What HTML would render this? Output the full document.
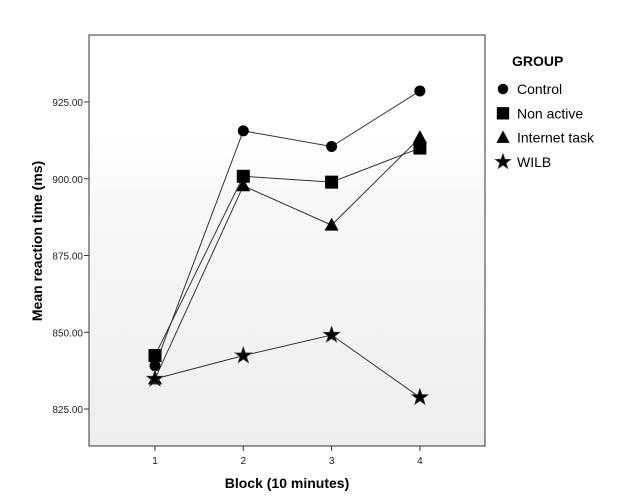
<!DOCTYPE html>
<html><head><meta charset="utf-8"><style>
html,body{margin:0;padding:0;background:#fff;}
svg{display:block;font-family:"Liberation Sans",sans-serif;}
</style></head><body>
<svg width="625" height="504" viewBox="0 0 625 504">
<defs>
<linearGradient id="bg" x1="0" y1="0" x2="0" y2="1">
<stop offset="0" stop-color="#ffffff"/><stop offset="0.25" stop-color="#ffffff"/><stop offset="0.4" stop-color="#f8f8f8"/><stop offset="1" stop-color="#efeeee"/>
</linearGradient>
</defs>
<rect x="89" y="35" width="396" height="411" fill="url(#bg)" stroke="#333" stroke-width="1"/>
<g id="yaxis"></g>
<g id="xaxis"></g>
<g id="series"></g>
<text x="287" y="488" text-anchor="middle" font-size="14" font-weight="bold">Block (10 minutes)</text>
<text transform="translate(42,241) rotate(-90)" text-anchor="middle" font-size="14" font-weight="bold">Mean reaction time (ms)</text>
<g id="legend">
<text x="512" y="66" font-size="14" font-weight="bold">GROUP</text>
</g>
</svg>
<script>
const categories = ["1","2","3","4"];
const seriesNames = ["Control","Non active","Internet task","WILB"];
const controlValues = [839.1, 915.6, 910.5, 928.6];
const nonActiveValues = [842.4, 900.8, 898.9, 910.0];
const internetValues = [834.8, 897.7, 884.9, 913.4];
const wilbValues = [834.8, 842.4, 849.1, 828.8];
const yTicks = [825, 850, 875, 900, 925];
const yTickLabels = ["825.00","850.00","875.00","900.00","925.00"];

const NS = "http://www.w3.org/2000/svg";
function y(v){ return 409 + (825 - v) * 3.07; }
function x(i){ return 155 + i * 88.3; }
function mk(tag, attrs, parent){ const e=document.createElementNS(NS,tag); for(const k in attrs) e.setAttribute(k, attrs[k]); parent.appendChild(e); return e; }

const ya = document.getElementById('yaxis');
yTicks.forEach((t,i)=>{
  const l = mk('line',{x1:84,x2:89,y1:y(t),y2:y(t),stroke:'#333'},ya);
  
  
  const tx = mk('text',{x:83,y:y(t)+4,'text-anchor':'end','font-size':10,fill:'#222'},ya);
  tx.textContent = yTickLabels[i];
  
  
});
const xa = document.getElementById('xaxis');
categories.forEach((c,i)=>{
  const l = mk('line',{x1:x(i),x2:x(i),y1:446,y2:451,stroke:'#333'},xa);
  
  
  const tx = mk('text',{x:x(i),y:464,'text-anchor':'middle','font-size':10,fill:'#222'},xa);
  tx.textContent = c;
  
  
});

function marker(type, cx, cy, parent, s){
  s = s || 1;
  let e;
  if(type==='circle') e = mk('circle',{cx:cx,cy:cy,r:5.5*s,fill:'#000'},parent);
  else if(type==='square') e = mk('rect',{x:cx-6.5*s,y:cy-6.5*s,width:13*s,height:13*s,fill:'#000'},parent);
  else if(type==='triangle') e = mk('polygon',{points:`${cx},${cy-7.5*s} ${cx+7*s},${cy+5.5*s} ${cx-7*s},${cy+5.5*s}`,fill:'#000'},parent);
  else {
    let pts=[]; for(let k=0;k<10;k++){ const r = (k%2? 3.6:9)*s; const a = -Math.PI/2 + k*Math.PI/5; pts.push((cx+r*Math.cos(a)).toFixed(1)+','+(cy+r*Math.sin(a)).toFixed(1)); }
    e = mk('polygon',{points:pts.join(' '),fill:'#000',stroke:'#555','stroke-width':0.6},parent);
  }
  return e;
}

const allSeries = [controlValues, nonActiveValues, internetValues, wilbValues];
const types = ['circle','square','triangle','star'];
const slugs = ['control','non-active','internet-task','wilb'];
const sg = document.getElementById('series');
allSeries.forEach((vals,si)=>{
  const g = mk('g',{},sg);
  
  
  const pl = mk('polyline',{points:vals.map((v,i)=>x(i)+','+y(v)).join(' '),fill:'none',stroke:'#333','stroke-width':1},g);
  
  
});
allSeries.forEach((vals,si)=>{
  vals.forEach((v,i)=>{
    const m = marker(types[si], x(i), y(v), sg);
    
    
  });
});

const lg = document.getElementById('legend');
seriesNames.forEach((n,i)=>{
  const cy = 89 + i*24.3;
  const m = marker(types[i], 503, cy, lg, 0.95);
  
  
  const t = mk('text',{x:517,y:cy+5,'font-size':14,fill:'#000'},lg);
  t.textContent = n;
  
  
});
</script>
</body></html>
